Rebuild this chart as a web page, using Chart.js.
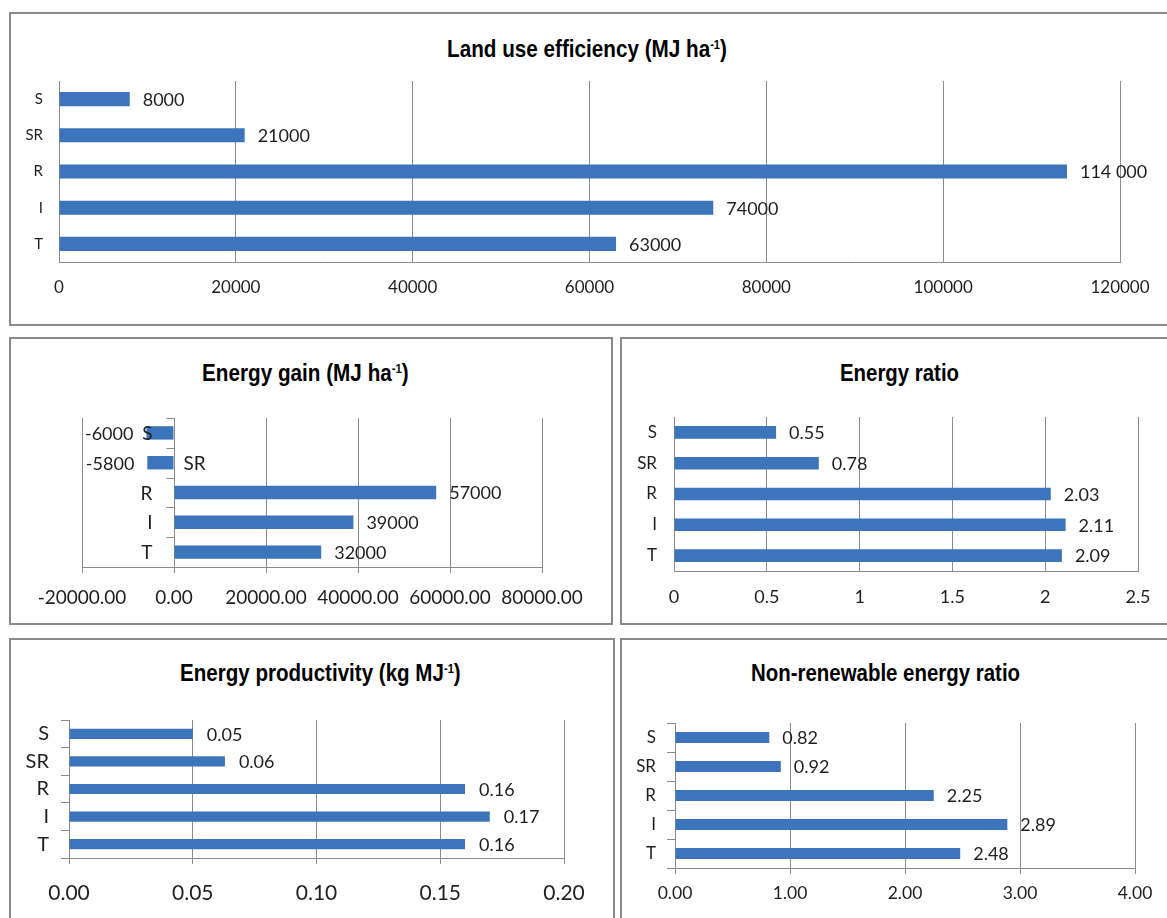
<!DOCTYPE html>
<html>
<head>
<meta charset="utf-8">
<script src="https://cdn.jsdelivr.net/npm/chart.js@4.4.1/dist/chart.umd.min.js"></script>
<style>
  body { margin: 0; background: #fff; width: 1167px; height: 918px; overflow: hidden; position: relative; }
  .panel { position: absolute; border: 2px solid #8a8a8a; box-sizing: border-box; }
  .title { position: absolute; font-family: "Liberation Sans", Arial, sans-serif; font-weight: bold;
           font-size: 24px; line-height: 28px; white-space: nowrap; transform-origin: 0 50%; color: #000; }
  .title sup { font-size: 13px; vertical-align: 8px; line-height: 0; }
  canvas { position: absolute; }
</style>
</head>
<body>
<div class="panel" style="left:9px;top:12px;width:1180px;height:314px"></div>
<div class="panel" style="left:9px;top:337px;width:604px;height:288px"></div>
<div class="panel" style="left:620px;top:337px;width:600px;height:288px"></div>
<div class="panel" style="left:9px;top:638px;width:606px;height:300px"></div>
<div class="panel" style="left:620px;top:638px;width:600px;height:300px"></div>

<div class="title" data-cx="587" data-w="280" style="top:35px">Land use efficiency (MJ ha<sup>-1</sup>)</div>
<div class="title" data-cx="305" data-w="207" style="top:359px">Energy gain (MJ ha<sup>-1</sup>)</div>
<div class="title" data-cx="899" data-w="119" style="top:359px">Energy ratio</div>
<div class="title" data-cx="320" data-w="281" style="top:659px">Energy productivity (kg MJ<sup>-1</sup>)</div>
<div class="title" data-cx="885" data-w="269" style="top:659px">Non-renewable energy ratio</div>

<script>
// categories, top to bottom
const categories = ['S', 'SR', 'R', 'I', 'T'];

const landValues = [8000, 21000, 114000, 74000, 63000];
const landLabels = ['8000', '21000', '114 000', '74000', '63000'];
const landTicks = ['0', '20000', '40000', '60000', '80000', '100000', '120000'];

const gainValues = [-6000, -5800, 57000, 39000, 32000];
const gainLabels = ['-6000', '-5800', '57000', '39000', '32000'];
const gainTicks = ['-20000.00', '0.00', '20000.00', '40000.00', '60000.00', '80000.00'];
const gainLabelSide = ['left', 'right', 'left', 'left', 'left'];

const ratioValues = [0.55, 0.78, 2.03, 2.11, 2.09];
const ratioTicks = ['0', '0.5', '1', '1.5', '2', '2.5'];

const prodValues = [0.05, 0.063, 0.16, 0.17, 0.16];
const prodTicks = ['0.00', '0.05', '0.10', '0.15', '0.20'];

const nonrenValues = [0.82, 0.92, 2.25, 2.89, 2.48];
const nonrenTicks = ['0.00', '1.00', '2.00', '3.00', '4.00'];

const BLUE = '#3c75bb';
const GRID = '#8c8c8c';
const TEXT = '#1f1f1f';

// narrow bold titles: squeeze to the width seen in the picture
document.querySelectorAll('.title').forEach((el) => {
    const k = +el.dataset.w / el.offsetWidth;
    el.style.left = (+el.dataset.cx - el.dataset.w / 2) + 'px';
    el.style.transform = 'scaleX(' + k + ')';
});

// value text at the end of each bar
function valueLabels(texts, size, gap) {
    return {
        id: 'valueLabels',
        afterDatasetsDraw(chart) {
            const ctx = chart.ctx;
            const values = chart.data.datasets[0].data;
            ctx.save();
            ctx.font = size + 'px Lato';
            ctx.fillStyle = TEXT;
            ctx.textBaseline = 'middle';
            chart.getDatasetMeta(0).data.forEach((bar, i) => {
                const neg = values[i] < 0;
                ctx.textAlign = neg ? 'right' : 'left';
                ctx.fillText(texts[i], bar.x + (neg ? -gap : gap), bar.y + 1);
            });
            ctx.restore();
        }
    };
}

// category axis drawn on the zero line (energy gain panel)
function zeroAxis(side, size) {
    return {
        id: 'zeroAxis',
        afterDraw(chart) {
            const ctx = chart.ctx;
            const x0 = Math.round(chart.scales.x.getPixelForValue(0)) + 0.5;
            const ys = chart.scales.y;
            ctx.save();
            ctx.strokeStyle = GRID;
            ctx.lineWidth = 1;
            ctx.beginPath();
            for (let i = 0; i <= categories.length; i++) {
                const yy = Math.round(ys.getPixelForValue(i - 0.5)) + 0.5;
                ctx.moveTo(x0 - 8, yy);
                ctx.lineTo(x0, yy);
            }
            ctx.stroke();
            ctx.font = size + 'px Lato';
            ctx.fillStyle = TEXT;
            ctx.textBaseline = 'middle';
            categories.forEach((c, i) => {
                const y = ys.getPixelForValue(i) + 1;
                if (side[i] === 'right') {
                    ctx.textAlign = 'left';
                    ctx.fillText(c, x0 + 9, y);
                } else {
                    ctx.textAlign = 'right';
                    ctx.fillText(c, x0 - 22, y);
                }
            });
            ctx.restore();
        }
    };
}

function makeChart(cfg) {
    const [cx, cy, cw, ch] = cfg.box;
    const [L, T, R, B] = cfg.plot;
    const canvas = document.createElement('canvas');
    canvas.width = cw;
    canvas.height = ch;
    canvas.style.left = cx + 'px';
    canvas.style.top = cy + 'px';
    canvas.style.width = cw + 'px';
    canvas.style.height = ch + 'px';
    document.body.appendChild(canvas);

    const plugins = [valueLabels(cfg.texts, cfg.valueSize, cfg.gap)];
    if (cfg.side) plugins.push(zeroAxis(cfg.side, cfg.catSize));

    return new Chart(canvas.getContext('2d'), {
        type: 'bar',
        data: {
            labels: categories,
            datasets: [{
                data: cfg.values,
                backgroundColor: BLUE,
                barPercentage: cfg.bar,
                categoryPercentage: 1
            }]
        },
        options: {
            indexAxis: 'y',
            responsive: false,
            animation: false,
            layout: { padding: { left: 0, top: T - cy, right: cx + cw - R, bottom: 0 } },
            plugins: { legend: { display: false }, tooltip: { enabled: false } },
            scales: {
                x: {
                    type: 'linear',
                    min: cfg.min,
                    max: cfg.max,
                    afterFit: (s) => { s.height = cy + ch - B; },
                    ticks: {
                        stepSize: cfg.step,
                        autoSkip: false,
                        maxRotation: 0,
                        font: { family: 'Lato', size: cfg.tickSize },
                        color: TEXT,
                        padding: cfg.tickPad,
                        callback: (v, i) => cfg.ticks[i]
                    },
                    grid: { color: GRID, drawTicks: cfg.xTicks, tickLength: 6, tickColor: GRID },
                    border: { color: GRID }
                },
                y: {
                    afterFit: (s) => { s.width = L - cx; },
                    ticks: {
                        display: !cfg.side,
                        font: { family: 'Lato', size: cfg.catSize },
                        color: TEXT,
                        padding: cfg.catPad
                    },
                    grid: {
                        display: !cfg.side,
                        drawOnChartArea: false,
                        offset: true,
                        drawTicks: cfg.yTicks,
                        tickLength: 8,
                        tickColor: GRID,
                        color: GRID
                    },
                    border: { display: !cfg.side, color: GRID }
                }
            }
        },
        plugins: plugins
    });
}

makeChart({
    box: [11, 14, 1156, 310], plot: [59, 81, 1120, 262],
    values: landValues, texts: landLabels, ticks: landTicks,
    min: 0, max: 120000, step: 20000, bar: 0.39,
    tickSize: 17, tickPad: 15, catSize: 15, catPad: 16, valueSize: 18, gap: 13,
    xTicks: false, yTicks: false
});

makeChart({
    box: [11, 339, 600, 284], plot: [82, 418, 542, 567],
    values: gainValues, texts: gainLabels, ticks: gainTicks,
    min: -20000, max: 80000, step: 20000, bar: 0.45,
    tickSize: 19, tickPad: 13, catSize: 19, catPad: 12, valueSize: 18, gap: 13,
    xTicks: true, yTicks: false, side: gainLabelSide
});

makeChart({
    box: [622, 339, 545, 284], plot: [674, 417, 1138, 571],
    values: ratioValues, texts: ratioValues.map(v => v.toFixed(2)), ticks: ratioTicks,
    min: 0, max: 2.5, step: 0.5, bar: 0.41,
    tickSize: 18, tickPad: 15, catSize: 17, catPad: 17, valueSize: 18, gap: 13,
    xTicks: false, yTicks: false
});

makeChart({
    box: [11, 640, 602, 278], plot: [69, 720, 564, 858],
    values: prodValues, texts: prodValues.map(v => v.toFixed(2)), ticks: prodTicks,
    min: 0, max: 0.2, step: 0.05, bar: 0.37,
    tickSize: 21, tickPad: 17, catSize: 20, catPad: 12, valueSize: 18, gap: 14,
    xTicks: true, yTicks: true
});

makeChart({
    box: [622, 640, 545, 278], plot: [675, 723, 1135, 868],
    values: nonrenValues, texts: nonrenValues.map(v => v.toFixed(2)), ticks: nonrenTicks,
    min: 0, max: 4, step: 1, bar: 0.38,
    tickSize: 17.5, tickPad: 9, catSize: 17, catPad: 11, valueSize: 18, gap: 13,
    xTicks: true, yTicks: true
});
</script>
</body>
</html>
